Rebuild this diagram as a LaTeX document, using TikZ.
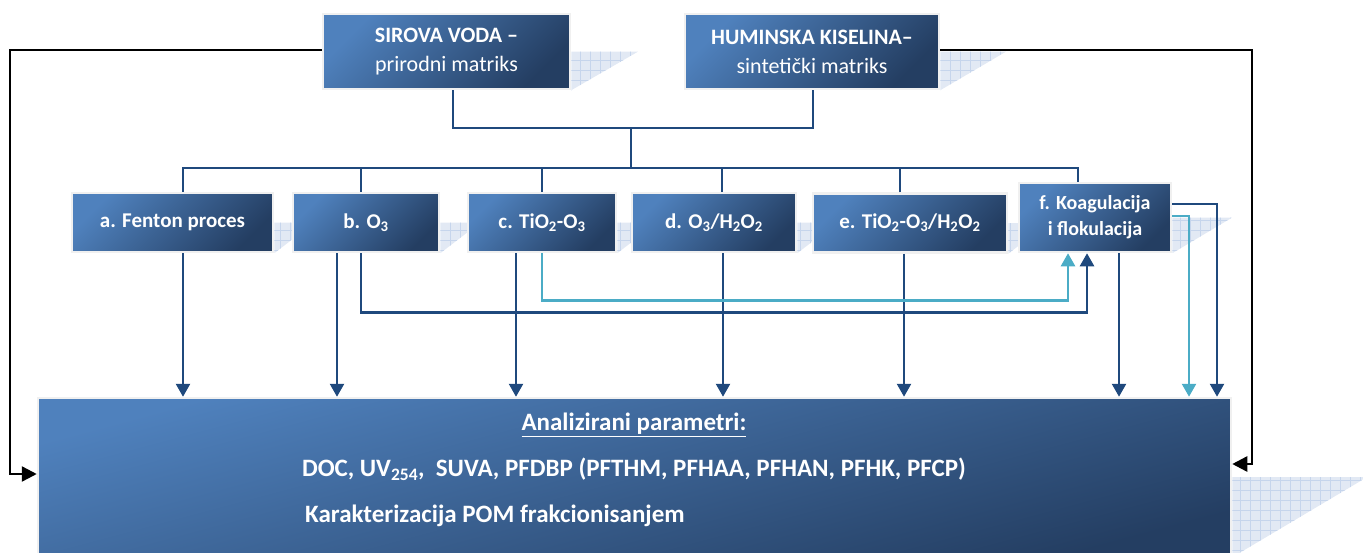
\documentclass[tikz,border=0pt]{standalone}
\usepackage{fontspec}
\setmainfont{Carlito}
\usetikzlibrary{arrows.meta}

\pgfdeclarelayer{background}
\pgfsetlayers{background,main}

\definecolor{boxlight}{RGB}{79,129,189}
\definecolor{boxdark}{RGB}{36,62,98}
\definecolor{boxrim}{RGB}{240,240,240}
\definecolor{linkblue}{RGB}{31,73,125}
\definecolor{linkcyan}{RGB}{75,172,198}
\definecolor{shadowfill}{RGB}{226,233,244}
\definecolor{shadowline}{RGB}{198,213,236}

\tikzset{
    box/.style={draw=boxrim, line width=2.5pt, top color=boxlight, bottom color=boxdark,
        shading angle=45, text=white, align=center, inner sep=0pt,
        font=\bfseries\fontsize{21}{26}\selectfont},
    topbox/.style={box, minimum height=75pt, font=\bfseries\fontsize{22}{29}\selectfont},
    midbox/.style={box, minimum height=59pt},
    resbox/.style={box, top color=boxlight, bottom color=boxdark, shading angle=15},
    restext/.style={text=white, inner sep=0pt, font=\bfseries\fontsize{25}{30}\selectfont},
    link/.style={draw=linkblue, line width=2.5pt},
    linkarrow/.style={link, -{Triangle[width=14pt,length=13pt]}},
    cyanarrow/.style={linkarrow, draw=linkcyan},
    feedback/.style={draw=black, line width=2.5pt, -{Triangle[width=15pt,length=15pt]}},
}

% grid shadow to the right of a box
\newcommand{\boxshadow}[2]{%
    \begin{pgfonlayer}{background}
        \begin{scope}
            \clip (#1.east) -- ++(#2,0) -- (#1.south east) -- cycle;
            \fill[shadowfill] (#1.north east) rectangle ([xshift=#2]#1.south east);
            \draw[shadowline, line width=0.8pt, step=10pt] (#1.north east) grid ([xshift=#2]#1.south east);
        \end{scope}
    \end{pgfonlayer}}

\begin{document}
\begin{tikzpicture}[x=1pt, y=-1pt]

    \useasboundingbox (0,0) rectangle (1363,552);

    % matrices
    \node[topbox, minimum width=247pt] (raw) at (446.5,51.5) {SIROVA VODA --\\ {\mdseries prirodni matriks}};
    \node[topbox, minimum width=254pt] (hum) at (812,51.5) {HUMINSKA KISELINA--\\ {\mdseries sintetički matriks}};

    % processes
    \node[midbox, minimum width=201pt] (a) at (172.5,222.5) {a. Fenton proces};
    \node[midbox, minimum width=146pt] (b) at (366,222.5) {b. O\textsubscript{3}};
    \node[midbox, minimum width=148pt] (c) at (542,222.5) {c. TiO\textsubscript{2}-O\textsubscript{3}};
    \node[midbox, minimum width=164pt] (d) at (714,222.5) {d. O\textsubscript{3}/H\textsubscript{2}O\textsubscript{2}};
    \node[midbox, minimum width=194pt] (e) at (910,223) {e. TiO\textsubscript{2}-O\textsubscript{3}/H\textsubscript{2}O\textsubscript{2}};
    \node[box, minimum width=152pt, minimum height=69pt, font=\bfseries\fontsize{20}{26}\selectfont] (f) at (1095,217.5) {f. Koagulacija\\ i flokulacija};

    % results
    \node[resbox, minimum width=1193pt, minimum height=158pt] (res) at (634.5,477) {};
    \node[restext] (rtitle) at (634,425) {\underline{Analizirani parametri:}};
    \node[restext] (rlist) at (634,469) {DOC, UV\textsubscript{254},\ \ SUVA, PFDBP (PFTHM, PFHAA, PFHAN, PFHK, PFCP)};
    \node[restext, anchor=west] (rpom) at (305,516) {Karakterizacija POM frakcionisanjem};

    \boxshadow{raw}{67}
    \boxshadow{hum}{66}
    \foreach \n in {a,b,c,d,e} {\boxshadow{\n}{40}}
    \boxshadow{f}{60}
    \boxshadow{res}{135}

    % tree from the matrices to the processes
    \coordinate (join) at (631,128);
    \coordinate (bus) at (631,168);
    \draw[link] ([xshift=6.5]raw.south) |- (join) -| ([xshift=1]hum.south);
    \draw[link] (join) -- (bus);
    \draw[link] ([xshift=10.5]a.north) |- (bus) -| ([xshift=-17]f.north);
    \foreach \n/\dx in {b/-5, c/0, d/8, e/-10}
        \draw[link] ([xshift=\dx]\n.north) -- ([xshift=\dx]\n.north |- bus);

    % processes to results
    \foreach \n/\dx in {a/10.5, b/-29, c/-26, d/9, e/-6, f/24}
        \draw[linkarrow] ([xshift=\dx]\n.south) -- ([xshift=\dx]\n.south |- res.north);

    % combined with coagulation
    \draw[linkarrow] ([xshift=-5]b.south) -- ++(0,59) -| ([xshift=-8]f.south);
    \draw[cyanarrow] (c.south) -- ++(0,47) -| ([xshift=-27]f.south);
    \draw[linkarrow] ([yshift=13.5]f.east) -| (1217,0 |- res.north);
    \draw[cyanarrow] ([yshift=1.5]f.east) -| (1189,0 |- res.north);

    % matrices directly to results
    \coordinate (lft) at (10,300);
    \coordinate (rgt) at (1252,300);
    \draw[feedback] ([yshift=1.5]raw.west) -| (lft) |- ([yshift=3]res.west);
    \draw[feedback] ([yshift=1.5]hum.east) -| (rgt) |- ([yshift=13]res.east);

\end{tikzpicture}
\end{document}
